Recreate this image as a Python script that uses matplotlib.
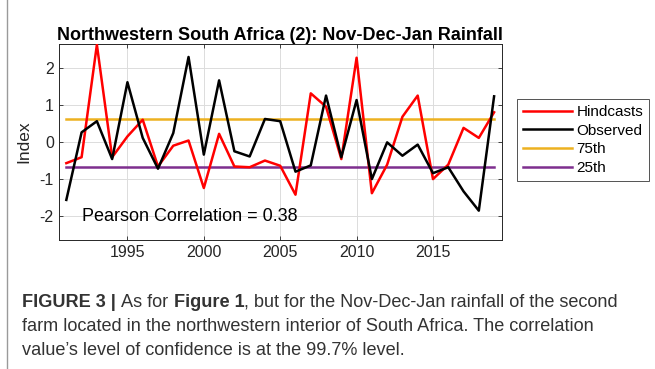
import matplotlib
matplotlib.use('Agg')
import matplotlib.pyplot as plt
from matplotlib.lines import Line2D

# data
years = list(range(1991, 2020))
hindcasts = [-0.57, -0.41, 2.62, -0.41, 0.15, 0.60, -0.66, -0.10, 0.04, -1.24,
             0.22, -0.66, -0.68, -0.50, -0.64, -1.42, 1.31, 0.95, -0.46, 2.27,
             -1.38, -0.61, 0.68, 1.25, -1.00, -0.61, 0.38, 0.11, 0.80]
observed = [-1.56, 0.26, 0.56, -0.46, 1.61, 0.11, -0.72, 0.24, 2.29, -0.34,
            1.66, -0.25, -0.39, 0.62, 0.56, -0.80, -0.63, 1.25, -0.41, 1.13,
            -1.00, -0.01, -0.37, -0.07, -0.84, -0.68, -1.33, -1.85, 1.23]
p75 = 0.63
p25 = -0.67
pearson = 0.38

plt.rcParams['font.family'] = ['Liberation Sans', 'DejaVu Sans']
plt.rcParams['axes.unicode_minus'] = False

fig = plt.figure(figsize=(6.55, 3.69), dpi=100)
ax = fig.add_axes([0.0896, 0.3496, 0.6764, 0.5312])

ax.plot(years, hindcasts, color='#ff0000', lw=1.8, label='Hindcasts', zorder=4)
ax.plot(years, observed, color='black', lw=1.8, label='Observed', zorder=5)
ax.plot([years[0], years[-1]], [p75, p75], color='#edb120', lw=1.8, label='75th', zorder=3)
ax.plot([years[0], years[-1]], [p25, p25], color='#7e2f8e', lw=1.8, label='25th', zorder=3)

ax.set_xlim(1990.5, 2019.5)
ax.set_ylim(-2.64, 2.64)
ax.set_xticks([1995, 2000, 2005, 2010, 2015])
ax.set_yticks([-2, -1, 0, 1, 2])
ax.grid(True, color='#dcdcdc', lw=0.7)
ax.set_axisbelow(True)
ax.tick_params(direction='in', length=3, width=0.6, colors='#262626',
               labelsize=11.5, top=True, right=True, labelcolor='#262626')
for s in ax.spines.values():
    s.set_color('#262626')
    s.set_linewidth(0.7)

ax.set_ylabel('Index', fontsize=12.5, color='#262626', labelpad=6)
ax.set_title('Northwestern South Africa (2): Nov-Dec-Jan Rainfall',
             fontsize=13, fontweight='bold', pad=3)
ax.text(1992.0, -2.0, f'Pearson Correlation = {pearson:.2f}', fontsize=13,
        va='center', ha='left', color='black')

leg = ax.legend(loc='upper left', bbox_to_anchor=(1.034, 0.719), fontsize=11,
                frameon=True, fancybox=False, edgecolor='#262626',
                handlelength=3.2, handletextpad=0.3, borderpad=0.4,
                labelspacing=0.3, borderaxespad=0)
leg.get_frame().set_linewidth(0.7)

# page border on the left
fig.add_artist(Line2D([0.011, 0.011], [0, 1], color='#9a9a9a', lw=1.0))

# caption, with bold pieces placed one after another
cap_size = 13.1
cap_col = '#333333'
renderer = fig.canvas.get_renderer()

def put_pieces(y, pieces):
    x = 0.033
    for txt, bold, gap in pieces:
        t = fig.text(x, y, txt, fontsize=cap_size, color=cap_col, va='center',
                     fontweight='bold' if bold else 'normal')
        bb = t.get_window_extent(renderer=renderer)
        x = fig.transFigure.inverted().transform((bb.x1 + gap, bb.y0))[0]

put_pieces(0.181, [('FIGURE 3 |', True, 6), ('As for', False, 5), ('Figure 1', True, 0),
                   (', but for the Nov-Dec-Jan rainfall of the second', False, 0)])
put_pieces(0.114, [('farm located in the northwestern interior of South Africa. The correlation', False, 0)])
put_pieces(0.049, [("value\u2019s level of confidence is at the 99.7% level.", False, 0)])

plt.savefig('out.png', dpi=100)
